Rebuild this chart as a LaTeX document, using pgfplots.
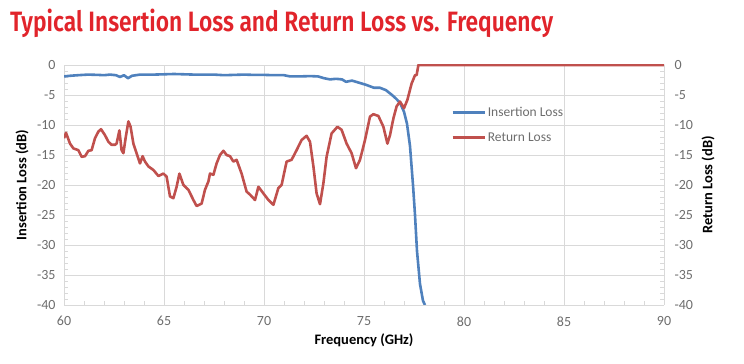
\documentclass[border=0pt]{standalone}
\usepackage{pgfplots}
\pgfplotsset{compat=1.18}
\usepackage{fontspec}
\setmainfont{Carlito}
\newfontfamily\titlefont{Fira Sans SemiBold}
\definecolor{ilblue}{HTML}{4F81BD}
\definecolor{rlred}{HTML}{C0504D}
\definecolor{titlered}{HTML}{E1242B}
\definecolor{ticktext}{HTML}{6D6D6D}
\definecolor{gridc}{HTML}{D9D9D9}
\begin{document}
\begin{tikzpicture}
\useasboundingbox (0,0) rectangle (744bp,364bp);
\node[anchor=base west, inner sep=0pt, text=titlered] at (10bp,332bp)
  {\resizebox{543bp}{\height}{\titlefont\fontsize{28bp}{30bp}\selectfont Typical Insertion Loss and Return Loss vs. Frequency}};
\begin{axis}[
  at={(64bp,59bp)}, anchor=south west,
  width=600bp, height=240bp, scale only axis,
  xmin=60, xmax=90, ymin=-40, ymax=0,
  xtick={60,65,...,90}, ytick={-40,-35,...,0},
  minor x tick num=4, minor y tick num=4,
  grid=major, major grid style={gridc, line width=0.8bp},
  axis line style={gridc, line width=0.8bp},
  tick style={gridc, line width=0.7bp},
  major tick length=0bp, minor tick length=4bp,
  tick align=inside,
  axis x line*=bottom, axis y line*=left,
  ticklabel style={font=\fontsize{14bp}{16bp}\selectfont, text=ticktext},
  xticklabel style={yshift=-8bp},
  yticklabel style={xshift=-5bp},
  /pgf/number format/assume math mode=true,
  xlabel={\bfseries Frequency (GHz)},
  ylabel={\bfseries Insertion Loss (dB)},
  label style={font=\fontsize{14.5bp}{16bp}\selectfont\bfseries},
  xlabel style={at={(axis description cs:0.5,-0.1458)}, anchor=center},
  ylabel style={at={(axis description cs:-0.07,0.5)}, anchor=center},
  legend style={at={(rel axis cs:0.645,0.835)}, anchor=north west, draw=none, fill=none,
    font=\fontsize{13.5bp}{15bp}\selectfont, text=ticktext, row sep=11bp, inner sep=0pt},
  legend cell align=left,
  legend image code/.code={\draw[#1, line width=2.6bp] (0bp,0bp) -- (32bp,0bp);},
]
\addplot[ilblue, line width=2.6bp, line join=round] coordinates {
(60,-1.9) (60.3,-1.8) (60.7,-1.7) (61.2,-1.6) (61.7,-1.65) (62.0,-1.7) (62.3,-1.6) (62.6,-1.7) (62.8,-2.0) (63.0,-1.7) (63.2,-2.2) (63.4,-1.8) (63.8,-1.6) (64.5,-1.6) (65.5,-1.5) (66.5,-1.6) (67.5,-1.6) (68.0,-1.7) (68.5,-1.65) (69.0,-1.6) (69.5,-1.65) (70.0,-1.65) (70.5,-1.7) (71.0,-1.7) (71.3,-1.9) (71.8,-1.9) (72.3,-1.85) (72.7,-1.9) (73.0,-2.2) (73.3,-2.4) (73.6,-2.3) (73.9,-2.4) (74.1,-2.8) (74.4,-2.6) (74.8,-3.0) (75.1,-3.3) (75.5,-3.8) (75.8,-3.8) (76.1,-4.2) (76.4,-5.0) (76.6,-5.6) (76.8,-6.3) (77.0,-7.8) (77.15,-9.8) (77.3,-13.5) (77.45,-20) (77.55,-25) (77.65,-31) (77.8,-36.5) (77.95,-39.3) (78.05,-40)
};
\addlegendentry{Insertion Loss}
\addplot[rlred, line width=2.6bp, line join=round] coordinates {
(60.00,-12.2) (60.10,-11.3) (60.30,-13.1) (60.47,-13.9) (60.72,-14.2) (60.88,-15.3) (61.05,-15.2) (61.22,-14.3) (61.38,-14.2) (61.55,-12.2) (61.72,-11.1) (61.85,-10.7) (62.05,-11.7) (62.22,-12.8) (62.38,-13.3) (62.55,-13.3) (62.63,-13.1) (62.77,-10.9) (62.88,-14.2) (62.97,-14.7) (63.08,-12.2) (63.22,-9.4) (63.33,-10.3) (63.47,-13.1) (63.63,-14.7) (63.80,-16.4) (63.93,-15.2) (64.05,-16.1) (64.22,-16.9) (64.47,-17.5) (64.72,-18.5) (64.97,-18.1) (65.13,-18.6) (65.30,-21.9) (65.47,-22.2) (65.63,-20.3) (65.77,-18.1) (65.97,-20.0) (66.22,-20.8) (66.47,-22.5) (66.63,-23.5) (66.88,-23.1) (67.05,-20.8) (67.22,-19.4) (67.30,-18.1) (67.47,-18.3) (67.63,-16.4) (67.80,-15.0) (67.97,-14.3) (68.13,-15.0) (68.30,-15.2) (68.47,-16.1) (68.63,-15.8) (68.88,-18.1) (69.13,-21.1) (69.30,-21.6) (69.55,-22.5) (69.72,-20.3) (69.97,-21.4) (70.22,-22.5) (70.47,-23.3) (70.72,-20.5) (70.88,-20.0) (71.13,-16.1) (71.38,-15.8) (71.63,-14.2) (71.88,-12.5) (72.13,-11.8) (72.30,-12.8) (72.47,-16.9) (72.63,-21.4) (72.80,-23.2) (72.97,-19.7) (73.13,-15.3) (73.38,-11.4) (73.67,-10.3) (73.88,-10.8) (74.13,-13.1) (74.38,-14.7) (74.60,-17.2) (74.80,-15.8) (75.05,-12.5) (75.30,-8.6) (75.47,-8.2) (75.72,-8.5) (75.97,-10.3) (76.17,-13.1) (76.30,-11.7) (76.47,-8.9) (76.63,-6.9) (76.80,-6.1) (77.00,-7.2) (77.17,-5.8) (77.38,-3.1) (77.55,-1.7) (77.63,-1.7) (77.72,0) (90,0)
};
\addlegendentry{Return Loss}
\end{axis}
\begin{axis}[
  at={(64bp,59bp)}, anchor=south west,
  width=600bp, height=240bp, scale only axis,
  xmin=60, xmax=90, ymin=-40, ymax=0,
  ytick={-40,-35,...,0}, minor y tick num=4,
  axis x line=none, axis y line*=right,
  axis line style={gridc, line width=0.8bp},
  tick style={gridc, line width=0.7bp},
  major tick length=0bp, minor tick length=4bp,
  tick align=inside,
  ticklabel style={font=\fontsize{14bp}{16bp}\selectfont, text=ticktext},
  yticklabel style={xshift=7bp},
  /pgf/number format/assume math mode=true,
  ylabel={\bfseries Return Loss (dB)},
  label style={font=\fontsize{14.5bp}{16bp}\selectfont\bfseries},
  ylabel style={at={(axis description cs:1.0733,0.5)}, anchor=center},
]
\end{axis}
\end{tikzpicture}
\end{document}
